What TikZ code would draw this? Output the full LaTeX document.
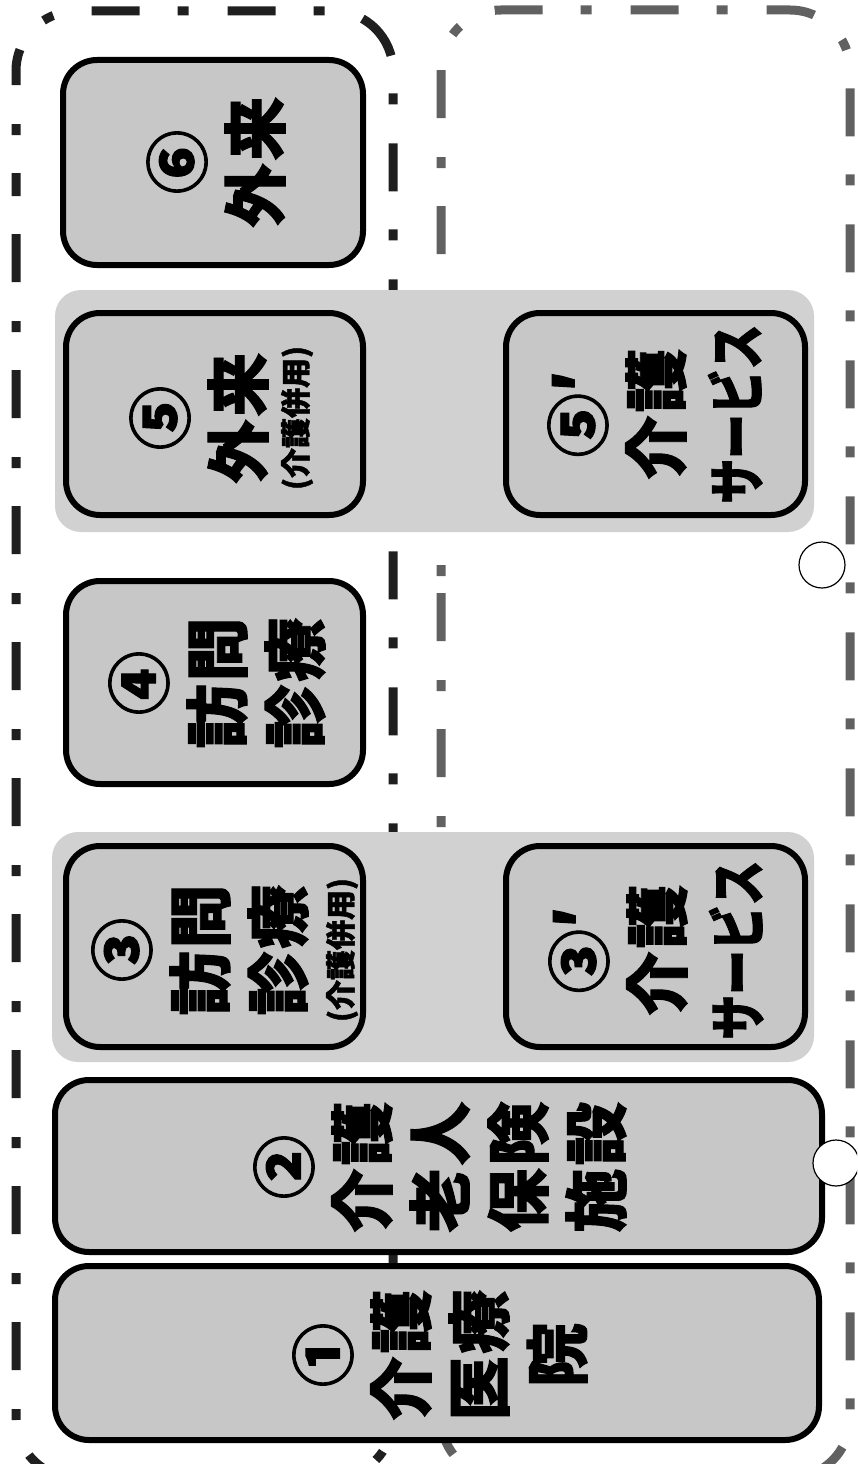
\documentclass[tikz,border=0pt]{standalone}
\usepackage{fontspec}
\usepackage{graphicx}
\newfontfamily\cjk{Noto Sans CJK JP}[BoldFeatures={FakeBold=1.5}]
\newcommand\cjkgap{\kern3pt}
\definecolor{boxfill}{gray}{0.78}
\definecolor{bandfill}{gray}{0.82}
\tikzset{
  boxst/.style={draw=black, line width=6pt, fill=boxfill, rounded corners=34pt, inner sep=0pt},
  bandst/.style={fill=bandfill, draw=none, rounded corners=26pt, inner sep=0pt},
  bigtxt/.style={rotate=90, align=center, inner sep=0pt, font=\cjk\bfseries\fontsize{64}{78}\selectfont},
  smalltxt/.style={rotate=90, inner sep=0pt, font=\cjk\bfseries\fontsize{30}{36}\selectfont},
  dashL/.style={draw=black!88, line width=9pt, rounded corners=60pt, dash pattern=on 11pt off 38pt on 48pt off 39pt},
  dashR/.style={draw=black!62, line width=9pt, rounded corners=60pt, dash pattern=on 48pt off 39pt on 11pt off 38pt},
  hole/.style={circle, draw=black, fill=white, line width=1.2pt, minimum size=46pt, inner sep=0pt},
}
\begin{document}
\begin{tikzpicture}[x=1pt,y=1pt]
\useasboundingbox (0,0) rectangle (857,-1464);
\fill[white] (0,0) rectangle (857,-1464);
\clip (0,0) rectangle (857,-1464);

% dashed regions
\coordinate (la) at (16,-125);
\coordinate (lb) at (16,-1478);
\coordinate (lc) at (393,-1478);
\coordinate (ld) at (393,-11);
\coordinate (le) at (16,-11);
\draw[dashL] (la) -- (lb) -- (lc) -- (ld) -- (le) -- cycle;
\coordinate (ra) at (441,-533);
\coordinate (rb) at (441,-1478);
\coordinate (rc) at (850,-1478);
\coordinate (rd) at (850,-10);
\coordinate (re) at (441,-10);
\draw[dashR] (ra) -- (rb) -- (rc) -- (rd) -- (re) -- cycle;

% shaded bands
\node[bandst, minimum width=759pt, minimum height=242pt] (band5) at (434.5,-411) {};
\node[bandst, minimum width=762pt, minimum height=230pt] (band3) at (433,-947) {};

% boxes
\node[boxst, minimum width=300pt, minimum height=205pt] (b6) at (213,-162.5) {};
\node[boxst, minimum width=297pt, minimum height=203pt] (b4) at (214.5,-682.5) {};
\node[boxst, minimum width=297pt, minimum height=202pt] (b5) at (214.5,-414) {};
\node[boxst, minimum width=299pt, minimum height=202pt] (b5p) at (655.5,-414) {};
\node[boxst, minimum width=297pt, minimum height=201pt] (b3) at (214.5,-946.5) {};
\node[boxst, minimum width=299pt, minimum height=201pt] (b3p) at (655.5,-946.5) {};
\node[boxst, minimum width=767pt, minimum height=172pt] (b2) at (438.5,-1166) {};
\node[boxst, minimum width=764pt, minimum height=174pt] (b1) at (437,-1353) {};

% texts
\node[bigtxt] (t6) at (216,-162) {⑥\\外\cjkgap 来};
\node[bigtxt] (t4) at (217,-683) {④\\訪\cjkgap 問\\診\cjkgap 療};
\node[bigtxt] (t5) at (199,-418) {⑤\\外\cjkgap 来};
\node[smalltxt] (s5) at (297,-418) {(介護併用)};
\node[bigtxt] (t5p) at (655,-414) {⑤′\\介\cjkgap 護\\\scalebox{0.7}[0.9]{サービス}};
\node[bigtxt] (t3) at (200,-950) {③\\訪\cjkgap 問\\診\cjkgap 療};
\node[smalltxt] (s3) at (342,-950) {(介護併用)};
\node[bigtxt] (t3p) at (656,-950) {③′\\介\cjkgap 護\\\scalebox{0.7}[0.9]{サービス}};
\node[bigtxt] (t2) at (440,-1167) {②\\介\cjkgap 護\\老\cjkgap 人\\保\cjkgap 険\\施\cjkgap 設};
\node[bigtxt] (t1) at (440,-1355) {①\\介\cjkgap 護\\医\cjkgap 療\\院};

% punch holes
\node[hole] (h1) at (822,-565) {};
\node[hole] (h2) at (836,-1163) {};
\end{tikzpicture}
\end{document}
